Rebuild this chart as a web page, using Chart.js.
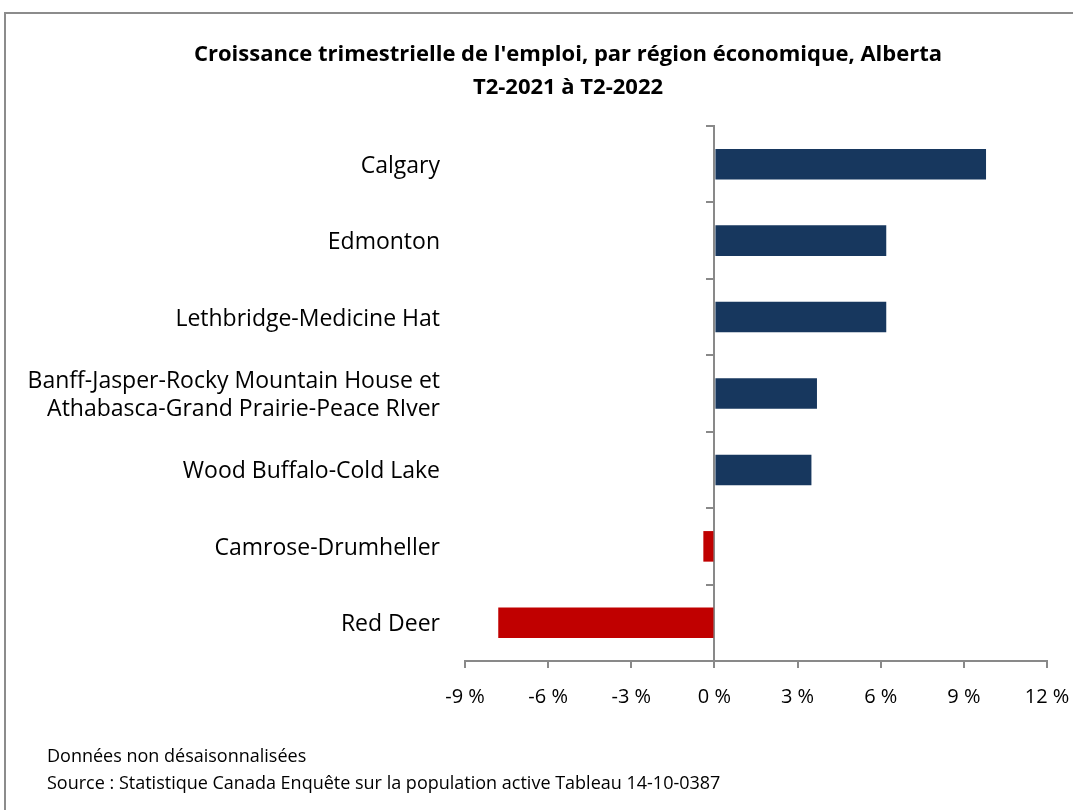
<!DOCTYPE html>
<html>
<head>
<meta charset="utf-8">
<script src="https://cdn.jsdelivr.net/npm/chart.js@4.4.1/dist/chart.umd.min.js"></script>
<style>
html, body { margin: 0; padding: 0; background: #fff; }
</style>
</head>
<body>
<canvas id="barChart" width="1073" height="810"></canvas>
<script>
var regions = [
    'Calgary',
    'Edmonton',
    'Lethbridge-Medicine Hat',
    ['Banff-Jasper-Rocky Mountain House et', 'Athabasca-Grand Prairie-Peace RIver'],
    'Wood Buffalo-Cold Lake',
    'Camrose-Drumheller',
    'Red Deer'
]
var growth = [9.8, 6.2, 6.2, 3.7, 3.5, -0.4, -7.8]
var xTicks = [-9, -6, -3, 0, 3, 6, 9, 12]
var titleLines = ["Croissance trimestrielle de l'emploi, par région économique, Alberta", 'T2-2021 à T2-2022']
var notes = ['Données non désaisonnalisées', 'Source : Statistique Canada Enquête sur la population active Tableau 14-10-0387']

var FONT = '"Open Sans", Lato, sans-serif'
var axisGray = '#898989'

// border, title and footnotes
var decoPlugin = {
    id: 'deco',
    beforeDraw: function (chart) {
        var ctx = chart.ctx
        ctx.save()
        ctx.fillStyle = '#fff'
        ctx.fillRect(0, 0, chart.width, chart.height)
        ctx.strokeStyle = '#8c8c8c'
        ctx.lineWidth = 2
        ctx.strokeRect(5, 13, chart.width + 10, chart.height + 10)
        ctx.restore()
    },
    afterDraw: function (chart) {
        var ctx = chart.ctx
        ctx.save()
        ctx.fillStyle = '#000'
        ctx.textAlign = 'center'
        ctx.textBaseline = 'middle'
        ctx.font = 'bold 22px ' + FONT
        ctx.fillText(titleLines[0], 568, 55)
        ctx.fillText(titleLines[1], 568, 88)
        ctx.textAlign = 'left'
        ctx.font = '18px ' + FONT
        ctx.fillText(notes[0], 47, 757)
        ctx.fillText(notes[1], 47, 784)
        ctx.restore()
    }
}

var ctx = document.getElementById('barChart').getContext('2d')

new Chart(ctx, {
    type: 'bar',
    data: {
        labels: regions,
        datasets: [{
            data: growth,
            backgroundColor: growth.map(function (v) { return v < 0 ? '#C00000' : '#17375E' }),
            categoryPercentage: 1,
            barPercentage: 0.4,
            yAxisID: 'y'
        }]
    },
    options: {
        indexAxis: 'y',
        responsive: false,
        animation: false,
        layout: { padding: { top: 126, left: 0, right: 26, bottom: 0 } },
        plugins: {
            legend: { display: false },
            tooltip: { enabled: false }
        },
        scales: {
            x: {
                min: xTicks[0],
                max: xTicks[xTicks.length - 1],
                afterBuildTicks: function (scale) {
                    scale.ticks = xTicks.map(function (v) { return { value: v } })
                },
                afterFit: function (scale) {
                    scale.height = 149
                    scale.paddingLeft = 0
                    scale.paddingRight = 0
                },
                grid: { drawOnChartArea: false, color: axisGray, lineWidth: 2, tickLength: 7 },
                border: { color: axisGray, width: 2 },
                ticks: {
                    padding: 17,
                    color: '#000',
                    font: { family: FONT, size: 20 },
                    callback: function (v) { return v + ' %' }
                }
            },
            y: {
                type: 'category',
                offset: true,
                afterFit: function (scale) {
                    scale.width = 465
                    scale.paddingTop = 0
                    scale.paddingBottom = 0
                },
                grid: { display: false, drawTicks: false },
                border: { display: false },
                ticks: {
                    padding: 25,
                    labelOffset: 2,
                    color: '#000',
                    font: { family: FONT, size: 23 }
                }
            },
            y2: {
                type: 'category',
                axis: 'y',
                position: { x: 0 },
                offset: true,
                grid: { offset: true, drawOnChartArea: false, color: axisGray, lineWidth: 2, tickLength: 7 },
                border: { color: axisGray, width: 2 },
                ticks: { display: false }
            }
        }
    },
    plugins: [decoPlugin]
})
</script>
</body>
</html>
